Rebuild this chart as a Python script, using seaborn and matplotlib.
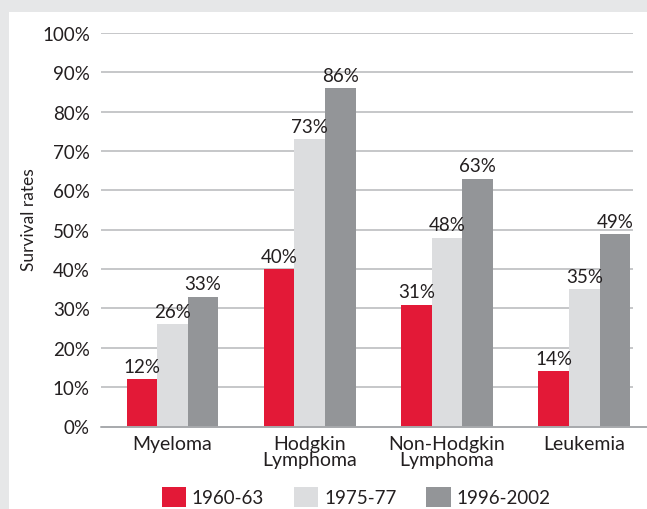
import matplotlib
matplotlib.use("Agg")
import matplotlib.pyplot as plt
import matplotlib.patches as mpatches
import seaborn as sns
import pandas as pd

# Five-year survival rates by blood cancer type and diagnosis period
cancers = ["Myeloma", "Hodgkin\nLymphoma", "Non-Hodgkin\nLymphoma", "Leukemia"]
periods = ["1960-63", "1975-77", "1996-2002"]
rates_1960 = [12, 40, 31, 14]
rates_1975 = [26, 73, 48, 35]
rates_1996 = [33, 86, 63, 49]
yticks = list(range(0, 101, 10))

colors = ["#e31937", "#dcdddf", "#939598"]
text_color = "#231f20"
grid_color = "#bcbec0"

df = pd.DataFrame({
    "cancer": cancers * 3,
    "period": [periods[0]] * 4 + [periods[1]] * 4 + [periods[2]] * 4,
    "rate": rates_1960 + rates_1975 + rates_1996,
})

sns.set_theme(style="white")
plt.rcParams["font.family"] = ["Lato", "DejaVu Sans"]
plt.rcParams["text.color"] = text_color

W, H = 647, 510
fig = plt.figure(figsize=(W / 100, H / 100), dpi=100, facecolor="#e6e7e8")
# white card on the grey page
fig.add_artist(mpatches.Rectangle((9 / W, 0), 1 - 9 / W, (H - 13) / H,
                                  transform=fig.transFigure, facecolor="white",
                                  edgecolor="none", zorder=0))

ax_l, ax_r = 101, 633
ax_b, ax_t = 427.5, 34
ax = fig.add_axes([ax_l / W, (H - ax_b) / H, (ax_r - ax_l) / W, (ax_b - ax_t) / H])
ax.set_facecolor("none")

sns.barplot(data=df, x="cancer", y="rate", hue="period", order=cancers,
            hue_order=periods, palette=colors, width=0.668, saturation=1,
            edgecolor="none", linewidth=0, legend=False, ax=ax, zorder=3)

ax.set_ylim(0, 100)
ax.set_xlim(-0.52, 3.355)
ax.set_yticks(yticks)
ax.set_yticklabels([f"{t}%" for t in yticks])
for t in yticks[1:]:
    ax.axhline(t, color=grid_color, linewidth=1.2, zorder=1)
# baseline runs past the plot to the card edge
ax.axhline(0, xmin=0, xmax=(W - ax_l) / (ax_r - ax_l), color="#a7a9ac",
           linewidth=1.4, clip_on=False, zorder=4)

for s in ax.spines.values():
    s.set_visible(False)
ax.tick_params(axis="y", length=0, labelsize=13.5, colors=text_color, pad=8)
ax.tick_params(axis="x", length=0, labelsize=14, colors=text_color, pad=6)
for lab in ax.get_xticklabels():
    lab.set_linespacing(0.95)

ax.set_xlabel("")
ax.set_ylabel("Survival rates", fontsize=12.5, color=text_color)
ax.yaxis.set_label_coords((37 - ax_l) / (ax_r - ax_l), (ax_b - 220) / (ax_b - ax_t))

for cont in ax.containers:
    ax.bar_label(cont, fmt="%g%%", padding=3, fontsize=13.5, color=text_color)

handles = [mpatches.Patch(facecolor=c, edgecolor="none") for c in colors]
fig.legend(handles, periods, loc="center", bbox_to_anchor=(356 / W, 12 / H),
           ncol=3, frameon=False, fontsize=13.5, handlelength=1.3,
           handleheight=1.3, handletextpad=0.3, columnspacing=1.6,
           borderpad=0, borderaxespad=0)

fig.savefig("out.png", dpi=100, facecolor=fig.get_facecolor())
